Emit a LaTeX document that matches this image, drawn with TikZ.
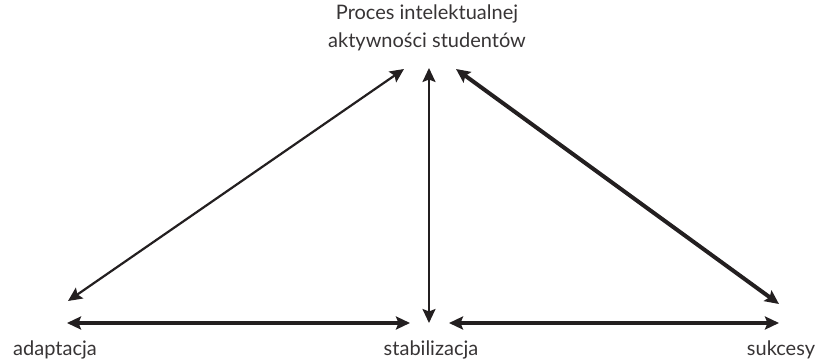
\documentclass[tikz,border=0pt]{standalone}
\usepackage{fontspec}
\setmainfont{Lato}
\usetikzlibrary{positioning,arrows.meta}
\definecolor{ink}{RGB}{35,31,32}
\definecolor{txt}{RGB}{55,52,53}

\begin{document}
\begin{tikzpicture}[x=1pt,y=-1pt,>={Stealth[length=14pt,width=13pt,inset=2.5pt]},
  lbl/.style={font=\fontsize{20}{28}\selectfont,text=txt,inner sep=0pt},
  lnk/.style={<->,draw=ink,line width=2.2pt},
  lnkb/.style={<->,draw=ink,line width=4pt}]
\useasboundingbox (0,0) rectangle (820,364);
\node[lbl,align=center] (proc) at (427,28) {Proces intelektualnej\\aktywności studentów};
\node[lbl] (adapt) at (55,350) {adaptacja};
\node[lbl] (stab) at (431,350) {stabilizacja};
\node[lbl] (succ) at (781,350) {sukcesy};
\coordinate (pL) at (404,69);
\coordinate (pM) at (429,68);
\coordinate (pR) at (456,69);
\coordinate (aT) at (68,301);
\coordinate (aB) at (67,323);
\coordinate (sT) at (429,323);
\coordinate (sL) at (410,323);
\coordinate (sR) at (449,323);
\coordinate (kT) at (779,304);
\coordinate (kB) at (779,323);
\draw[lnk] (aT) -- (pL);
\draw[lnk] (sT) -- (pM);
\draw[lnkb] (pR) -- (kT);
\draw[lnkb] (aB) -- (sL);
\draw[lnkb] (sR) -- (kB);
\end{tikzpicture}
\end{document}
